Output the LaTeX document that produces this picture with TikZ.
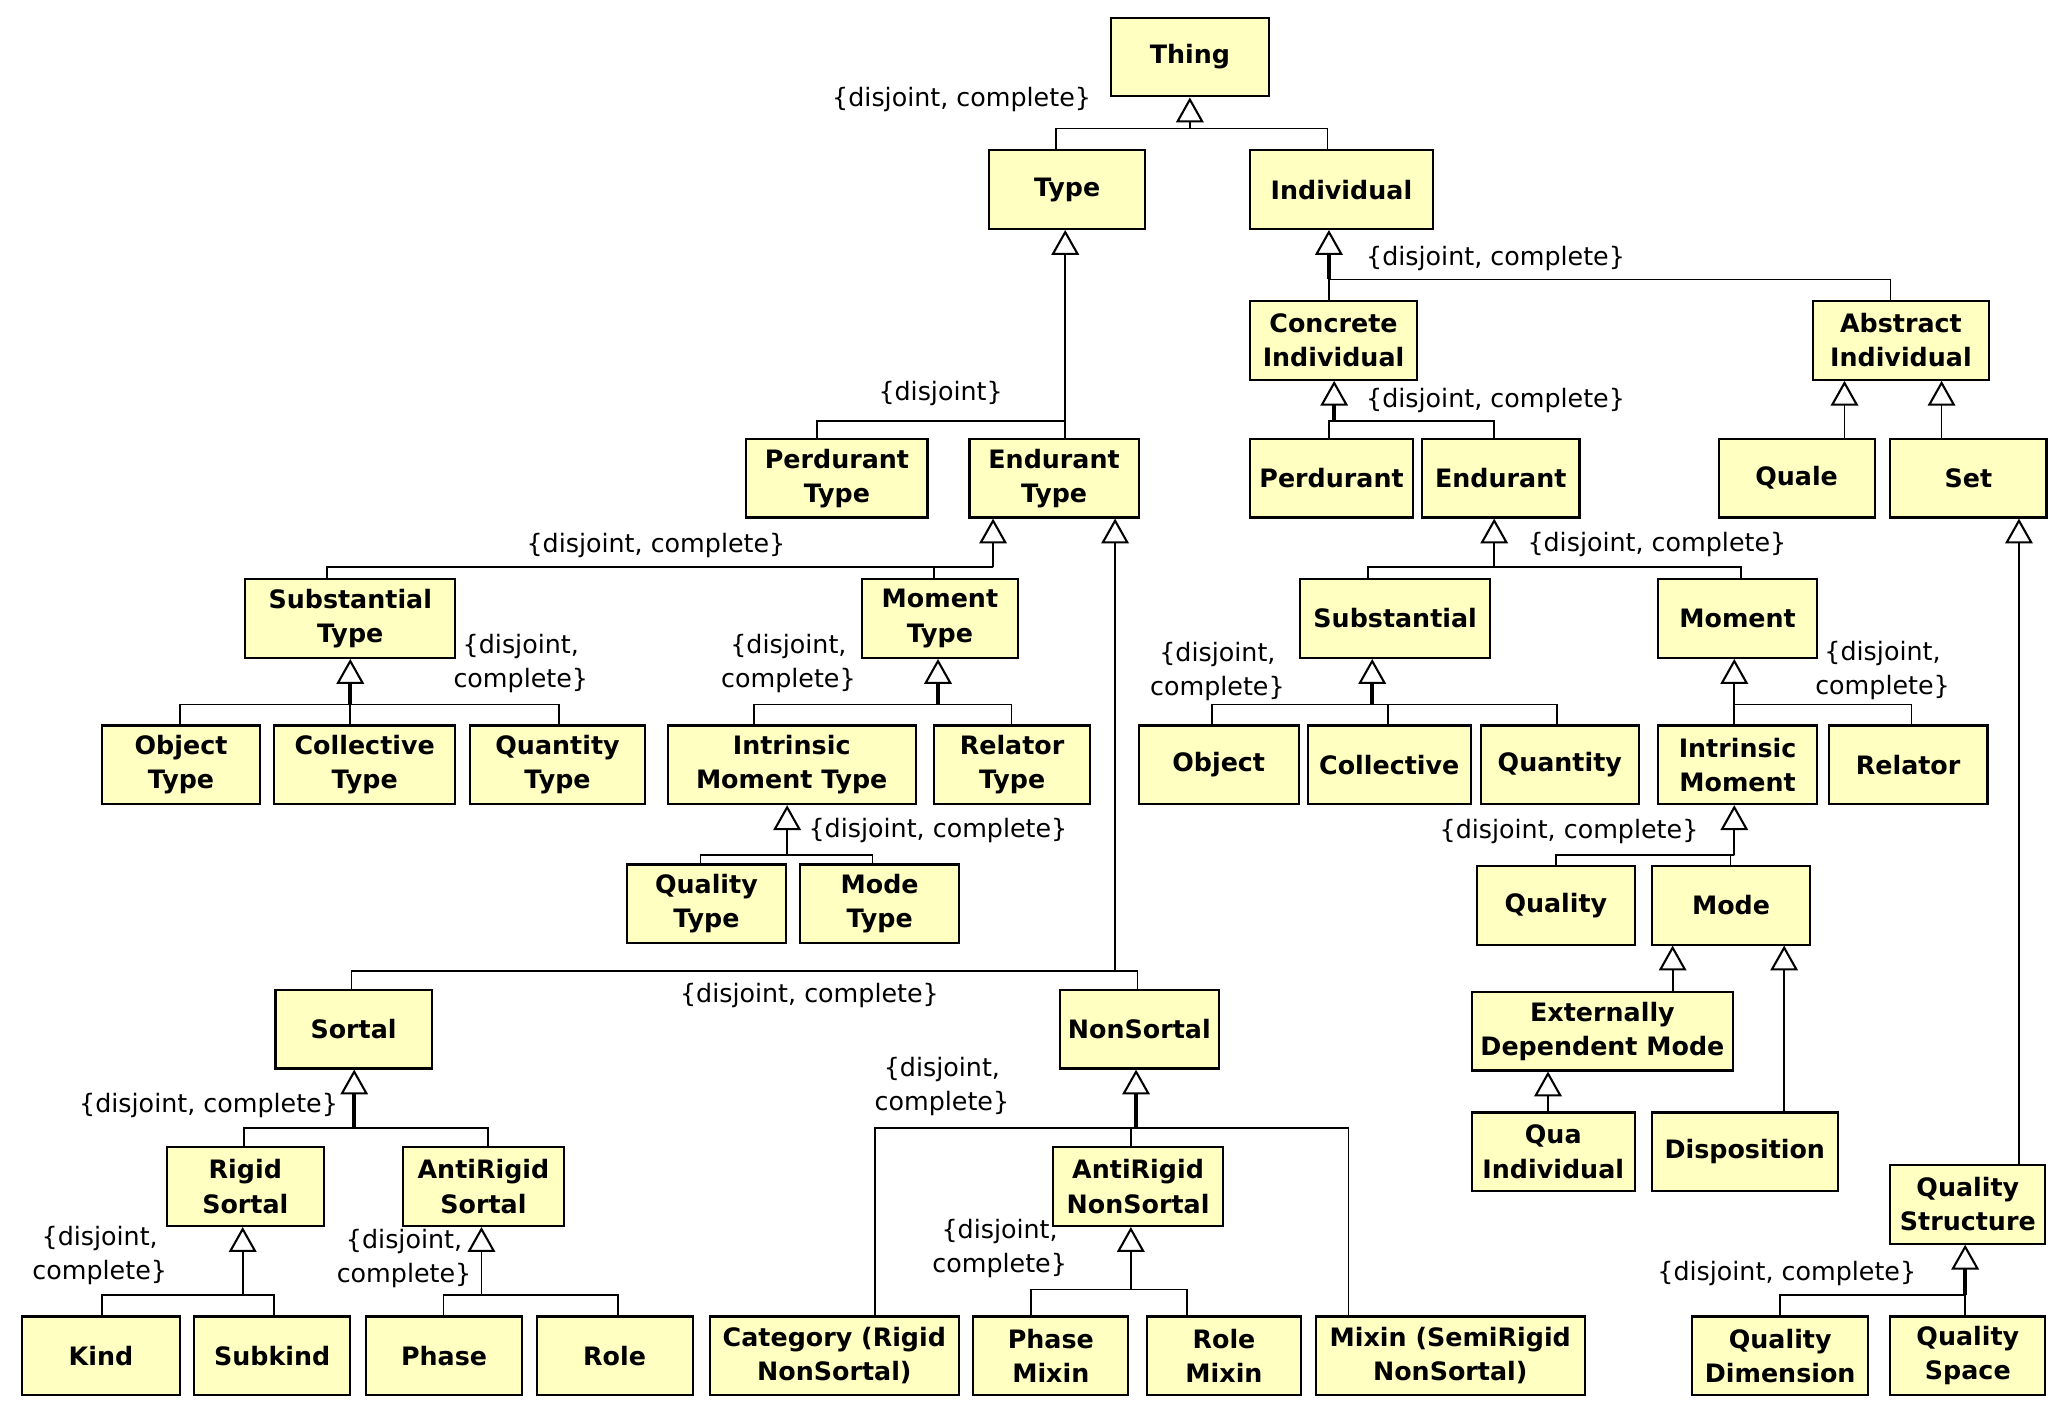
\documentclass[tikz,border=0pt]{standalone}
\usepackage{fontspec}
\setmainfont{DejaVu Sans}
\usetikzlibrary{arrows.meta}
\definecolor{umlyellow}{HTML}{FFFFC2}
\newcommand\umlfont{\fontsize{11}{14.8}\selectfont}
\tikzset{
  cls/.style={draw, line width=0.9pt, fill=umlyellow, font=\umlfont\bfseries,
    align=center, inner sep=1pt, minimum height=1.2cm},
  boxw/.style={minimum width=#1*0.02cm},
  gs/.style={font=\umlfont, align=center, inner sep=0pt},
  link/.style={line width=0.75pt},
  gen/.style={line width=0.75pt, -{Triangle[open, width=0.42cm, length=0.38cm, line width=0.9pt]}},
  genb/.style={gen, line width=1.6pt},
}
\begin{document}
\begin{tikzpicture}[x=0.02cm, y=-0.02cm]
  \useasboundingbox (0,0) rectangle (1568,1084);

  % classes
  \node[cls, boxw=120] (thing) at (907,43.5) {Thing};
  \node[cls, boxw=119] (type) at (813.5,144.5) {Type};
  \node[cls, boxw=139] (indiv) at (1022.5,144.5) {Individual};
  \node[cls, boxw=127] (concr) at (1016.5,259.5) {Concrete\\Individual};
  \node[cls, boxw=134] (abstr) at (1449,259.5) {Abstract\\Individual};
  \node[cls, boxw=138] (perdt) at (638,364.5) {Perdurant\\Type};
  \node[cls, boxw=129] (endt) at (803.5,364.5) {Endurant\\Type};
  \node[cls, boxw=124] (perd) at (1015,364.5) {Perdurant};
  \node[cls, boxw=120] (endu) at (1144,364.5) {Endurant};
  \node[cls, boxw=119] (quale) at (1369.5,364.5) {Quale};
  \node[cls, boxw=119] (set) at (1500.5,364.5) {Set};
  \node[cls, boxw=160] (subt) at (267,471.5) {Substantial\\Type};
  \node[cls, boxw=119] (momt) at (716.5,471.5) {Moment\\Type};
  \node[cls, boxw=145] (subst) at (1063.5,471.5) {Substantial};
  \node[cls, boxw=121] (mom) at (1324.5,471.5) {Moment};
  \node[cls, boxw=120] (objt) at (138,583) {Object\\Type};
  \node[cls, boxw=138] (colt) at (278,583) {Collective\\Type};
  \node[cls, boxw=134] (quat) at (425,583) {Quantity\\Type};
  \node[cls, boxw=189] (imt) at (603.5,583) {Intrinsic\\Moment Type};
  \node[cls, boxw=119] (relt) at (771.5,583) {Relator\\Type};
  \node[cls, boxw=122] (obj) at (929,583) {Object};
  \node[cls, boxw=124] (col) at (1059,583) {Collective};
  \node[cls, boxw=120] (qua) at (1189,583) {Quantity};
  \node[cls, boxw=121] (im) at (1324.5,583) {Intrinsic\\Moment};
  \node[cls, boxw=121] (rel) at (1454.5,583) {Relator};
  \node[cls, boxw=121] (qualt) at (538.5,689) {Quality\\Type};
  \node[cls, boxw=121] (modet) at (670.5,689) {Mode\\Type};
  \node[cls, boxw=120] (qual) at (1186,690) {Quality};
  \node[cls, boxw=121] (mode) at (1319.5,690) {Mode};
  \node[cls, boxw=119] (sort) at (269.5,784.5) {Sortal};
  \node[cls, boxw=121] (nons) at (868.5,784.5) {NonSortal};
  \node[cls, boxw=199] (edm) at (1221.5,786) {Externally\\Dependent Mode};
  \node[cls, boxw=120] (rigs) at (187,904.5) {Rigid\\Sortal};
  \node[cls, boxw=123] (ars) at (368.5,904.5) {AntiRigid\\Sortal};
  \node[cls, boxw=129] (arns) at (867.5,904.5) {AntiRigid\\NonSortal};
  \node[cls, boxw=124] (quai) at (1184,878) {Qua\\Individual};
  \node[cls, boxw=142] (disp) at (1330,878) {Disposition};
  \node[cls, boxw=118] (qstr) at (1500,918) {Quality\\Structure};
  \foreach \n/\x/\w/\t in {kind/77/120/Kind, subk/207.5/119/Subkind,
      phase/338.5/119/Phase, role/468.5/119/Role,
      cat/636/190/Category (Rigid\\NonSortal), phmx/801/118/Phase\\Mixin,
      romx/933/118/Role\\Mixin, mixin/1105.5/205/Mixin (SemiRigid\\NonSortal),
      qdim/1357/134/Quality\\Dimension, qspa/1500/118/Quality\\Space}
    \node[cls, boxw=\w] (\n) at (\x,1033.5) {\t};

  % generalization sets
  \coordinate (jthing) at (907,98);
  \draw[gen] (jthing) -- (thing.south -| jthing);
  \draw[link] (type.north -| 805,0) |- (jthing) -| (indiv.north -| 1012,0);
  \node[gs] (gsthing) at (733,76) {\{disjoint, complete\}};

  \coordinate (jtype) at (812,321);
  \draw[gen] (jtype) -- (type.south -| jtype);
  \draw[link] (perdt.north -| 623,0) |- (jtype) -- (endt.north -| jtype);
  \node[gs] (gstype) at (717,300) {\{disjoint\}};

  \coordinate (jindiv) at (1013,213);
  \draw[genb] (jindiv) -- (indiv.south -| jindiv);
  \draw[link] (concr.north -| jindiv) -- (jindiv) -| (abstr.north -| 1441,0);
  \node[gs] (gsindiv) at (1140,197) {\{disjoint, complete\}};

  \coordinate (jconcr) at (1017,321);
  \draw[genb] (jconcr) -- (concr.south -| jconcr);
  \draw[link] (perd.north -| 1013,0) |- (jconcr) -| (endu.north -| 1139,0);
  \node[gs] (gsconcr) at (1140,305) {\{disjoint, complete\}};

  \draw[gen] (quale.north -| 1406,0) -- (abstr.south -| 1406,0);
  \draw[gen] (set.north -| 1480,0) -- (abstr.south -| 1480,0);

  \coordinate (jendt) at (757,432);
  \draw[gen] (jendt) -- (endt.south -| jendt);
  \draw[link] (subt.north -| 249,0) |- (jendt) -| (momt.north -| 712,0);
  \node[gs] (gsendt) at (500,416) {\{disjoint, complete\}};

  \coordinate (jendtb) at (850,740);
  \draw[gen] (jendtb) -- (endt.south -| jendtb);
  \draw[link] (sort.north -| 268,0) |- (jendtb) -| (nons.north -| 867,0);
  \node[gs] (gsendtb) at (617,759) {\{disjoint, complete\}};

  \coordinate (jsubt) at (267,537);
  \draw[genb] (jsubt) -- (subt.south -| jsubt);
  \draw[link] (objt.north -| 137,0) |- (jsubt) -| (quat.north -| 426,0);
  \draw[link] (colt.north -| jsubt) -- (jsubt);
  \node[gs] (gssubt) at (397,506) {\{disjoint,\\complete\}};

  \coordinate (jmomt) at (715,537);
  \draw[genb] (jmomt) -- (momt.south -| jmomt);
  \draw[link] (imt.north -| 575,0) |- (jmomt) -| (relt.north -| 771,0);
  \node[gs] (gsmomt) at (601,506) {\{disjoint,\\complete\}};

  \coordinate (jimt) at (600,652);
  \draw[gen] (jimt) -- (imt.south -| jimt);
  \draw[link] (qualt.north -| 534,0) |- (jimt) -| (modet.north -| 665,0);
  \node[gs] (gsimt) at (715,633) {\{disjoint, complete\}};

  \coordinate (jendu) at (1139,432);
  \draw[gen] (jendu) -- (endu.south -| jendu);
  \draw[link] (subst.north -| 1043,0) |- (jendu) -| (mom.north -| 1327,0);
  \node[gs] (gsendu) at (1263,415) {\{disjoint, complete\}};

  \coordinate (jsubst) at (1046,537);
  \draw[genb] (jsubst) -- (subst.south -| jsubst);
  \draw[link] (obj.north -| 924,0) |- (jsubst) -| (qua.north -| 1187,0);
  \draw[link] (col.north -| 1058,0) |- (jsubst);
  \node[gs] (gssubst) at (928,512) {\{disjoint,\\complete\}};

  \coordinate (jmom) at (1322,537);
  \draw[gen] (jmom) -- (mom.south -| jmom);
  \draw[link] (im.north -| jmom) -- (jmom) -| (rel.north -| 1457,0);
  \node[gs] (gsmom) at (1435,511) {\{disjoint,\\complete\}};

  \coordinate (jim) at (1322,652);
  \draw[gen] (jim) -- (im.south -| jim);
  \draw[link] (qual.north -| 1186,0) |- (jim) -| (mode.north -| 1319,0);
  \node[gs] (gsim) at (1196,634) {\{disjoint, complete\}};

  \draw[gen] (edm.north -| 1275,0) -- (mode.south -| 1275,0);
  \draw[gen] (disp.north -| 1360,0) -- (mode.south -| 1360,0);
  \draw[gen] (quai.north -| 1180,0) -- (edm.south -| 1180,0);
  \draw[gen] (qstr.north -| 1539,0) -- (set.south -| 1539,0);

  \coordinate (jqstr) at (1498,987);
  \draw[genb] (jqstr) -- (qstr.south -| jqstr);
  \draw[link] (qdim.north -| 1357,0) |- (jqstr) -- (qspa.north -| jqstr);
  \node[gs] (gsqstr) at (1362,971) {\{disjoint, complete\}};

  \coordinate (jsort) at (270,860);
  \draw[genb] (jsort) -- (sort.south -| jsort);
  \draw[link] (rigs.north -| 186,0) |- (jsort) -| (ars.north -| 372,0);
  \node[gs] (gssort) at (159,843) {\{disjoint, complete\}};

  \coordinate (jrigs) at (185,987);
  \draw[gen] (jrigs) -- (rigs.south -| jrigs);
  \draw[link] (kind.north -| 78,0) |- (jrigs) -| (subk.north -| 209,0);
  \node[gs] (gsrigs) at (76,957) {\{disjoint,\\complete\}};

  \coordinate (jars) at (367,987);
  \draw[gen] (jars) -- (ars.south -| jars);
  \draw[link] (phase.north -| 338,0) |- (jars) -| (role.north -| 471,0);
  \node[gs] (gsars) at (308,959) {\{disjoint,\\complete\}};

  \coordinate (jnons) at (866,860);
  \draw[genb] (jnons) -- (nons.south -| jnons);
  \draw[link] (cat.north -| 667,0) |- (jnons) -| (mixin.north -| 1028,0);
  \draw[link] (arns.north -| 862,0) |- (jnons);
  \node[gs] (gsnons) at (718,828) {\{disjoint,\\complete\}};

  \coordinate (jarns) at (862,983);
  \draw[gen] (jarns) -- (arns.south -| jarns);
  \draw[link] (phmx.north -| 786,0) |- (jarns) -| (romx.north -| 905,0);
  \node[gs] (gsarns) at (762,952) {\{disjoint,\\complete\}};
\end{tikzpicture}
\end{document}
